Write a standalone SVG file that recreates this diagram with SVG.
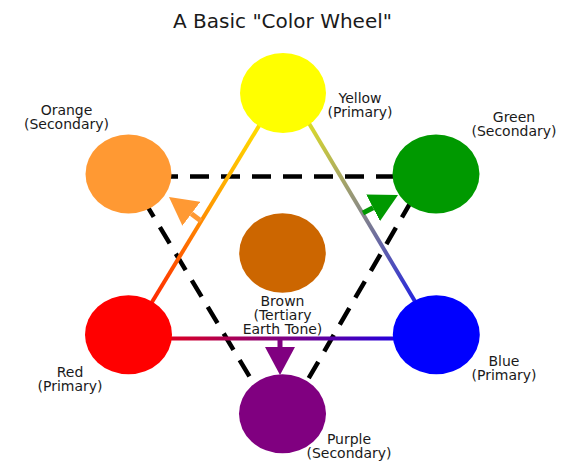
<svg xmlns="http://www.w3.org/2000/svg" width="572" height="467" viewBox="0 0 572 467">
  <style>
    text { font-family: "DejaVu Sans", Verdana, sans-serif; fill: #1a1a1a; text-anchor: middle; }
    .title { font-size: 20px; }
    .lbl { font-size: 14px; }
    .solid { fill: none; stroke-width: 4; }
    .dash { fill: none; stroke: #000; stroke-width: 4.5; stroke-dasharray: 19 12; }
    .stem { fill: none; stroke-width: 5; }
  </style>
  <defs>
    <linearGradient id="gYR" gradientUnits="userSpaceOnUse" x1="285" y1="83" x2="132" y2="335">
      <stop offset="0" stop-color="#ffff00"/>
      <stop offset="0.5" stop-color="#ff9900"/>
      <stop offset="1" stop-color="#ff0000"/>
    </linearGradient>
    <linearGradient id="gYB" gradientUnits="userSpaceOnUse" x1="285" y1="83" x2="435" y2="335">
      <stop offset="0" stop-color="#ffff00"/>
      <stop offset="0.5" stop-color="#8c8c84"/>
      <stop offset="1" stop-color="#0000ff"/>
    </linearGradient>
    <linearGradient id="gRB" gradientUnits="userSpaceOnUse" x1="128" y1="338" x2="436" y2="338">
      <stop offset="0" stop-color="#ff0000"/>
      <stop offset="0.5" stop-color="#800080"/>
      <stop offset="1" stop-color="#0000ff"/>
    </linearGradient>
    <marker id="mOrange" viewBox="0 0 28 30" refX="0" refY="15" markerWidth="28" markerHeight="30" markerUnits="userSpaceOnUse" orient="auto">
      <path d="M0,0 L28,15 L0,30 Z" fill="#ff9933"/>
    </marker>
    <marker id="mGreen" viewBox="0 0 28 30" refX="0" refY="15" markerWidth="28" markerHeight="30" markerUnits="userSpaceOnUse" orient="auto">
      <path d="M0,0 L28,15 L0,30 Z" fill="#009900"/>
    </marker>
    <marker id="mPurple" viewBox="0 0 28 30" refX="0" refY="15" markerWidth="28" markerHeight="30" markerUnits="userSpaceOnUse" orient="auto">
      <path d="M0,0 L28,15 L0,30 Z" fill="#800080"/>
    </marker>
  </defs>

  <text class="title" x="282.5" y="28">A Basic "Color Wheel"</text>

  <g id="connectors">
    <line class="dash" x1="128" y1="176.5" x2="436" y2="176.5"/>
    <line class="dash" x1="128" y1="174" x2="272" y2="414"/>
    <line class="dash" x1="427" y1="174" x2="288" y2="414"/>
    <line class="solid" stroke="url(#gYR)" x1="285" y1="83" x2="132" y2="335"/>
    <line class="solid" stroke="url(#gYB)" x1="285" y1="83" x2="435" y2="335"/>
    <line class="solid" stroke="url(#gRB)" x1="128" y1="338.5" x2="436" y2="338.5"/>
    <line class="stem" stroke="#ff9933" x1="201" y1="221" x2="191.4" y2="213.8" marker-end="url(#mOrange)"/>
    <line class="stem" stroke="#009900" x1="363" y1="213" x2="373.1" y2="207.8" marker-end="url(#mGreen)"/>
    <line class="stem" stroke="#800080" x1="280" y1="339" x2="280" y2="347" marker-end="url(#mPurple)"/>
  </g>

  <g id="yellow">
    <ellipse cx="283" cy="93" rx="43" ry="40" fill="#ffff00"/>
    <text class="lbl" x="360" y="102.5">Yellow</text>
    <text class="lbl" x="360" y="116.5">(Primary)</text>
  </g>
  <g id="orange">
    <ellipse cx="128.5" cy="174" rx="43" ry="39.5" fill="#ff9933"/>
    <text class="lbl" x="66.5" y="114.5">Orange</text>
    <text class="lbl" x="66.5" y="128.5">(Secondary)</text>
  </g>
  <g id="green">
    <ellipse cx="436" cy="174" rx="43.5" ry="39.5" fill="#009900"/>
    <text class="lbl" x="514" y="122">Green</text>
    <text class="lbl" x="514" y="136">(Secondary)</text>
  </g>
  <g id="red">
    <ellipse cx="128.5" cy="334.7" rx="43.5" ry="39.5" fill="#ff0000"/>
    <text class="lbl" x="70" y="376.5">Red</text>
    <text class="lbl" x="70" y="390.5">(Primary)</text>
  </g>
  <g id="blue">
    <ellipse cx="436.3" cy="334.7" rx="43.5" ry="39.5" fill="#0000ff"/>
    <text class="lbl" x="504" y="366">Blue</text>
    <text class="lbl" x="504" y="380">(Primary)</text>
  </g>
  <g id="purple">
    <ellipse cx="282.5" cy="413.8" rx="43.5" ry="39.5" fill="#800080"/>
    <text class="lbl" x="349" y="444.3">Purple</text>
    <text class="lbl" x="349" y="458.3">(Secondary)</text>
  </g>
  <g id="brown">
    <ellipse cx="282.5" cy="253" rx="43.3" ry="39.7" fill="#cc6600"/>
    <text class="lbl" x="282.5" y="305.5">Brown</text>
    <text class="lbl" x="282.5" y="319.5">(Tertiary</text>
    <text class="lbl" x="282.5" y="333.5">Earth Tone)</text>
  </g>
</svg>
